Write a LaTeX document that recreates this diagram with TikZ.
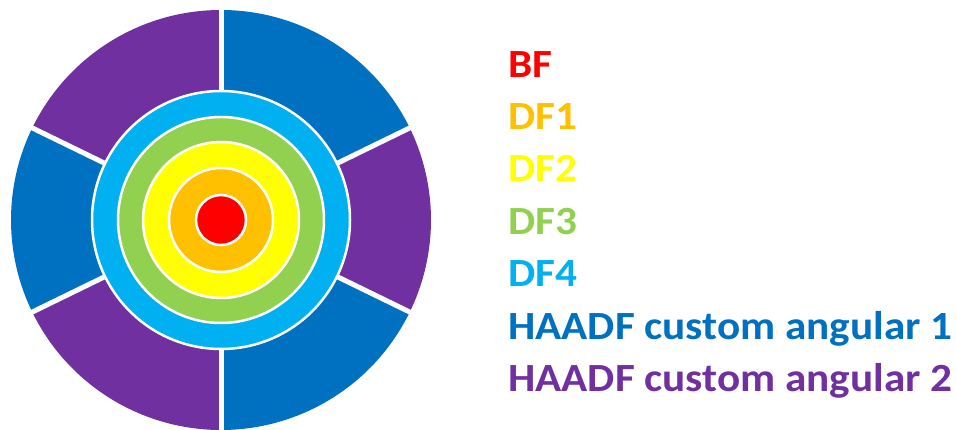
\documentclass[tikz,border=0pt]{standalone}
\usepackage{fontspec}
\setmainfont{Carlito}[FakeStretch=1.08]
\usetikzlibrary{positioning}

\definecolor{bfred}{HTML}{FF0000}
\definecolor{dforange}{HTML}{FFC000}
\definecolor{dfyellow}{HTML}{FFFF00}
\definecolor{dfgreen}{HTML}{92D050}
\definecolor{dfcyan}{HTML}{00B0F0}
\definecolor{haadfblue}{HTML}{0070C0}
\definecolor{haadfpurple}{HTML}{7030A0}

\tikzset{
	ring/.style={draw=white, line width=2.5pt},
	gap/.style={draw=white, line width=5pt},
	legend/.style={inner sep=0pt, text height=27pt, text depth=8pt,
		font=\fontsize{40}{40}\selectfont\bfseries},
}

\begin{document}
\begin{tikzpicture}[x=1pt, y=1pt]
	\useasboundingbox (0,0) rectangle (956,430);
	\coordinate (c) at (221,210);

	% angular segments
	\foreach \a/\b/\col in {26/90/haadfblue, 90/154/haadfpurple, 154/206/haadfblue,
		206/270/haadfpurple, 270/334/haadfblue, -26/26/haadfpurple} {
		\fill[\col] (c) -- ++(\a:210) arc[start angle=\a, end angle=\b, radius=210] -- cycle;
	}
	\foreach \a in {26,90,154,206,270,334} {
		\draw[gap] (c) ++(\a:120) coordinate (s\a) -- ++(\a:95) coordinate (e\a);
	}

	% annular detectors
	\fill[dfcyan, ring] (c) circle[radius=129];
	\fill[dfgreen, ring] (c) circle[radius=103];
	\fill[dfyellow, ring] (c) circle[radius=78];
	\fill[dforange, ring] (c) circle[radius=52];
	\fill[bfred, ring] (c) circle[radius=25];

	% legend
	\node[legend, anchor=north west, text=bfred] (bf) at (508,380) {BF};
	\node[legend, below=17pt of bf.south west, anchor=north west, text=dforange] (df1) {DF1};
	\node[legend, below=17pt of df1.south west, anchor=north west, text=dfyellow] (df2) {DF2};
	\node[legend, below=17pt of df2.south west, anchor=north west, text=dfgreen] (df3) {DF3};
	\node[legend, below=17pt of df3.south west, anchor=north west, text=dfcyan] (df4) {DF4};
	\node[legend, below=17pt of df4.south west, anchor=north west, text=haadfblue] (h1) {HAADF custom angular 1};
	\node[legend, below=17pt of h1.south west, anchor=north west, text=haadfpurple] (h2) {HAADF custom angular 2};
\end{tikzpicture}
\end{document}
